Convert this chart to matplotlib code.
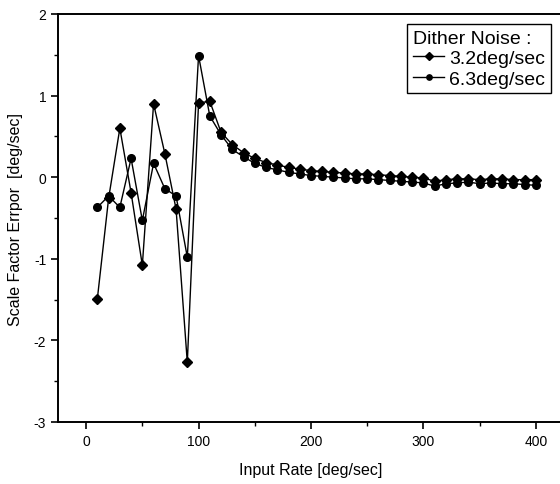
import matplotlib
matplotlib.use("Agg")
import matplotlib.pyplot as plt
from matplotlib.ticker import MultipleLocator

plt.rcParams['font.family'] = ['Liberation Sans', 'DejaVu Sans']
plt.rcParams['axes.unicode_minus'] = False

rate = list(range(10, 410, 10))

noise_32 = [-1.49, -0.26, 0.60, -0.19, -1.08, 0.90, 0.29, -0.39, -2.27, 0.91,
            0.93, 0.55, 0.40, 0.30, 0.23, 0.18, 0.15, 0.12, 0.10, 0.08,
            0.07, 0.06, 0.05, 0.04, 0.04, 0.03, 0.02, 0.01, 0.00, -0.01,
            -0.05, -0.03, -0.02, -0.02, -0.03, -0.02, -0.02, -0.03, -0.03, -0.03]
noise_63 = [-0.37, -0.23, -0.37, 0.23, -0.53, 0.17, -0.14, -0.23, -0.98, 1.49,
            0.75, 0.52, 0.34, 0.25, 0.17, 0.12, 0.09, 0.06, 0.04, 0.02,
            0.01, 0.00, -0.01, -0.02, -0.02, -0.03, -0.04, -0.05, -0.06, -0.07,
            -0.11, -0.08, -0.07, -0.06, -0.08, -0.07, -0.08, -0.08, -0.09, -0.10]

fig = plt.figure(figsize=(5.6, 4.85), dpi=100)
ax = fig.add_axes([58 / 560, 1 - 423 / 485, 506 / 560, 408 / 485])

ax.plot(rate, noise_32, color="black", lw=1.0, marker="D", ms=5.5, label="3.2deg/sec")
ax.plot(rate, noise_63, color="black", lw=1.0, marker="o", ms=5.5, label="6.3deg/sec")

ax.set_xlim(-25, 425)
ax.set_ylim(-3, 2)
ax.xaxis.set_major_locator(MultipleLocator(100))
ax.xaxis.set_minor_locator(MultipleLocator(50))
ax.yaxis.set_major_locator(MultipleLocator(1))
ax.yaxis.set_minor_locator(MultipleLocator(0.5))
ax.tick_params(which="major", direction="out", length=5, width=1.2, labelsize=10)
ax.tick_params(which="minor", direction="out", length=3, width=1.0)
ax.spines["right"].set_visible(False)
for s in ["left", "bottom", "top"]:
    ax.spines[s].set_linewidth(1.4)

ax.set_xlabel("Input Rate [deg/sec]", fontsize=11.5, labelpad=10)
ax.set_ylabel("Scale Factor Errpor  [deg/sec]", fontsize=11.5, labelpad=8)

leg = ax.legend(title="Dither Noise :", loc="upper right", bbox_to_anchor=(0.993, 1.0),
                fontsize=14, title_fontsize=14, fancybox=False, edgecolor="black",
                framealpha=1, handlelength=1.6, handletextpad=0.25, borderpad=0.3,
                labelspacing=0.15, markerscale=0.7, alignment="left")
leg.get_frame().set_linewidth(1.0)

fig.savefig("out.png", dpi=100)
